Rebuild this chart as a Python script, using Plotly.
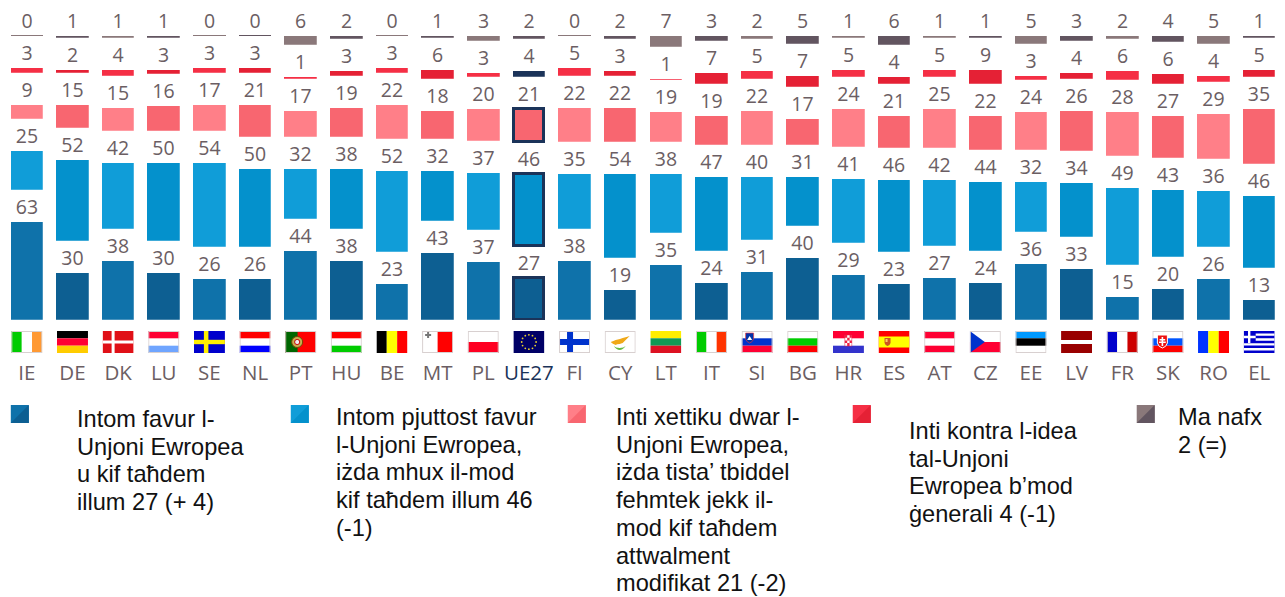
import base64
import plotly.graph_objects as go

countries = ["IE","DE","DK","LU","SE","NL","PT","HU","BE","MT","PL","UE27","FI","CY","LT","IT","SI","BG","HR","ES","AT","CZ","EE","LV","FR","SK","RO","EL"]
favour = [63,30,38,30,26,26,44,38,23,43,37,27,38,19,35,24,31,40,29,23,27,24,36,33,15,20,26,13]
rather_favour = [25,52,42,50,54,50,32,38,52,32,37,46,35,54,38,47,40,31,41,46,42,44,32,34,49,43,36,46]
sceptical = [9,15,15,16,17,21,17,19,22,18,20,21,22,22,19,19,22,17,24,21,25,22,24,26,28,27,29,35]
against = [3,2,4,3,3,3,1,3,3,6,3,4,5,3,1,7,5,7,5,4,5,9,3,4,6,6,4,5]
dont_know = [0,1,1,1,0,0,6,2,0,1,3,2,0,2,7,3,2,5,1,6,1,1,5,3,2,4,5,1]
series = [favour, rather_favour, sceptical, against, dont_know]

palette = [
    ("#0f72aa", "#0d5f92"),
    ("#109dd8", "#0491cc"),
    ("#ff7f88", "#f86670"),
    ("#f52f45", "#e52135"),
    ("#8a787a", "#625560"),
]
NAVY = "#1b3359"
TEXT = "#6b5e63"
legend_items = [
    (11, 76.5, 419, ["Intom favur l-", "Unjoni Ewropea", "u kif taħdem", "illum 27 (+ 4)"]),
    (291, 335.5, 417, ["Intom pjuttost favur", "l-Unjoni Ewropea,", "iżda mhux il-mod", "kif taħdem illum 46", "(-1)"]),
    (568, 615, 417, ["Inti xettiku dwar l-", "Unjoni Ewropea,", "iżda tista’ tbiddel", "fehmtek jekk il-", "mod kif taħdem", "attwalment", "modifikat 21 (-2)"]),
    (853, 908, 431, ["Inti kontra l-idea", "tal-Unjoni", "Ewropea b’mod", "ġenerali 4 (-1)"]),
    (1137, 1177, 417, ["Ma nafx", "2 (=)"]),
]

W, H = 1285, 597
ML, MR, MT, MB = 4.2, 2.7, 0, 277
PW, PH = W - ML - MR, H - MT - MB
UNIT = 1.56
GAP = 32 / UNIT
BAR = 32.6 / (PW / 28)
BAR_EU = 29.6 / (PW / 28)
EU = countries.index("UE27")
xs = list(range(len(countries)))

def xp(px): return (px - ML) / PW
def yp(px): return 1 - (px - MT) / PH

fig = go.Figure()
for k, vals in enumerate(series):
    colors = [palette[k][i % 2] for i in xs]
    line_c = []
    for i, v in enumerate(vals):
        line_c.append(colors[i] if v == 0 else "rgba(255,255,255,0.3)")
    line_w = [1.0 if v == 0 else 0.8 for v in vals]
    widths = [BAR] * len(xs)
    if k < 3:
        line_c[EU] = NAVY
        line_w[EU] = 3
        widths[EU] = BAR_EU
        colors[EU] = palette[k][1]
    if k == 3:
        colors[EU] = NAVY
    if k == 4:
        colors[EU] = palette[k][1]
    fig.add_bar(x=xs, y=vals, width=widths, marker=dict(color=colors, line=dict(color=line_c, width=line_w)),
                showlegend=False, hoverinfo="skip")
    fig.add_bar(x=xs, y=[GAP] * len(xs), width=BAR, marker=dict(color="rgba(0,0,0,0)", line=dict(width=0)),
                text=[str(v) for v in vals], textposition="inside", insidetextanchor="middle",
                textangle=0, constraintext="none",
                textfont=dict(family="Open Sans", size=19.5, color=TEXT), showlegend=False, hoverinfo="skip")

flags = {
 "IE": '<rect width="10.3" height="22" fill="#00cc00"/><rect x="20.7" width="10.3" height="22" fill="#ff9933"/>',
 "DE": '<rect width="31" height="7.3" fill="#000"/><rect y="7.3" width="31" height="7.4" fill="#ff0033"/><rect y="14.7" width="31" height="7.3" fill="#ffcc00"/>',
 "DK": '<rect width="31" height="22" fill="#e01017"/><rect x="9" width="3" height="22" fill="#fff"/><rect y="9.5" width="31" height="3" fill="#fff"/>',
 "LU": '<rect width="31" height="7.3" fill="#ff0033"/><rect y="14.7" width="31" height="7.3" fill="#6fa5ff"/>',
 "SE": '<rect width="31" height="22" fill="#0000cc"/><rect x="10" width="4.5" height="22" fill="#ffee00"/><rect y="8.8" width="31" height="4.4" fill="#ffee00"/>',
 "NL": '<rect width="31" height="7.3" fill="#ff0000"/><rect y="14.7" width="31" height="7.3" fill="#0000ff"/>',
 "PT": '<rect width="31" height="22" fill="#ff0000"/><rect width="12.4" height="22" fill="#006600"/><circle cx="12" cy="11" r="5.5" fill="#c8b050" stroke="#774400"/><circle cx="12" cy="11" r="2.6" fill="#eee" stroke="#cc0000"/>',
 "HU": '<rect width="31" height="7.3" fill="#ff0000"/><rect y="14.7" width="31" height="7.3" fill="#00cc00"/>',
 "BE": '<rect width="10.3" height="22" fill="#000"/><rect x="10.3" width="10.4" height="22" fill="#ffff00"/><rect x="20.7" width="10.3" height="22" fill="#ff0000"/>',
 "MT": '<rect x="15.5" width="15.5" height="22" fill="#ff0000"/><path d="M3 3h2V1h2v2h2v2H7v2H5V5H3z" fill="#777"/>',
 "PL": '<rect y="11" width="31" height="11" fill="#ff0022"/>',
 "UE27": '<rect width="31" height="22" fill="#000066"/>' + "".join(f'<circle cx="{15.5+7.2*c:.1f}" cy="{11+7.2*s:.1f}" r="0.9" fill="#e8d030"/>' for c, s in [(1,0),(.87,.5),(.5,.87),(0,1),(-.5,.87),(-.87,.5),(-1,0),(-.87,-.5),(-.5,-.87),(0,-1),(.5,-.87),(.87,-.5)]),
 "FI": '<rect x="8" width="6" height="22" fill="#0033cc"/><rect y="8" width="31" height="6" fill="#0033cc"/>',
 "CY": '<path d="M6 11q3-1 5-2q5-1 7-2q4-1 7-2q-3 3-5 5q-2 3-5 3q-3 0-4 1q-3-1-5-3z" fill="#f0a818"/><path d="M9 15q3 4 6 4q3 0 6-4q-2 2-6 2q-4 0-6-2z" fill="#66bb44"/>',
 "LT": '<rect width="31" height="7.3" fill="#ffee00"/><rect y="7.3" width="31" height="7.4" fill="#119955"/><rect y="14.7" width="31" height="7.3" fill="#dd1122"/>',
 "IT": '<rect width="10.3" height="22" fill="#00cc00"/><rect x="20.7" width="10.3" height="22" fill="#ff3300"/>',
 "SI": '<rect y="7.3" width="31" height="7.4" fill="#0033cc"/><rect y="14.7" width="31" height="7.3" fill="#ff0033"/><path d="M4 2h8v6q-1 3-4 4q-3-1-4-4z" fill="#0033aa" stroke="#ff3333" stroke-width=".6"/><path d="M5.5 9l2.5-4l2.5 4z" fill="#fff"/>',
 "BG": '<rect y="7.3" width="31" height="7.4" fill="#00cc00"/><rect y="14.7" width="31" height="7.3" fill="#ff0000"/>',
 "HR": '<rect width="31" height="7.3" fill="#ff0033"/><rect y="14.7" width="31" height="7.3" fill="#3333cc"/><rect x="12" y="4" width="7" height="11" fill="#fff" stroke="#dd2244" stroke-width=".5"/><path d="M12 4h2.3v2.7H12zM16.7 4H19v2.7h-2.3zM14.3 6.7h2.4v2.7h-2.4zM12 9.4h2.3v2.7H12zM16.7 9.4H19v2.7h-2.3zM14.3 12.1h2.4v2.9h-2.4z" fill="#ee2244"/>',
 "ES": '<rect width="31" height="22" fill="#ff0000"/><rect y="5.5" width="31" height="11" fill="#ffff00"/><path d="M6 7h6v5q-1 3-3 3t-3-3z" fill="#cc5522"/><rect x="7" y="8" width="2" height="3" fill="#ffcc66"/>',
 "AT": '<rect width="31" height="7.3" fill="#ff0033"/><rect y="14.7" width="31" height="7.3" fill="#ff0033"/>',
 "CZ": '<rect y="11" width="31" height="11" fill="#ff0033"/><path d="M0 0L15 11L0 22z" fill="#0033cc"/>',
 "EE": '<rect width="31" height="7.3" fill="#0099ff"/><rect y="7.3" width="31" height="7.4" fill="#000"/>',
 "LV": '<rect width="31" height="9" fill="#990000"/><rect y="13" width="31" height="9" fill="#990000"/>',
 "FR": '<rect width="10.3" height="22" fill="#0000cc"/><rect x="20.7" width="10.3" height="22" fill="#cc0000"/>',
 "SK": '<rect y="7.3" width="31" height="7.4" fill="#0055ff"/><rect y="14.7" width="31" height="7.3" fill="#ff0000"/><path d="M5 4h10v8q-1 4-5 5q-4-1-5-5z" fill="#ee1111" stroke="#fff"/><path d="M9.2 6h1.6v2h2v1.4h-2v1.2h2.6V12h-2.6v3H9.2v-3H6.6v-1.4h2.6V9.4h-2V8h2z" fill="#fff"/>',
 "RO": '<rect width="10.3" height="22" fill="#0033ff"/><rect x="10.3" width="10.4" height="22" fill="#ffff00"/><rect x="20.7" width="10.3" height="22" fill="#ff0000"/>',
 "EL": '<rect width="31" height="22" fill="#0000cc"/><path d="M12 3.6h19M12 8.5h19M0 13.4h31M0 18.3h31" stroke="#fff" stroke-width="2.4"/><path d="M5.5 0v12M0 6h12" stroke="#fff" stroke-width="2.4"/>',
}
bordered = {"IE","LU","MT","PL","FI","CY","SI","BG","CZ","EE","FR","SK","IT","PT","NL","HU","AT"}
images = []
for i, c in enumerate(countries):
    edge = '<rect x=".5" y=".5" width="30" height="21" fill="none" stroke="#d8d0d0"/>' if c in bordered else ""
    svg = f'<svg xmlns="http://www.w3.org/2000/svg" width="31" height="22" viewBox="0 0 31 22"><rect width="31" height="22" fill="#fff"/>{flags[c]}{edge}</svg>'
    src = "data:image/svg+xml;base64," + base64.b64encode(svg.encode("utf-8")).decode()
    images.append(dict(source=src, xref="x", yref="paper", x=i, y=yp(331), sizex=31 / (PW / 28), sizey=22 / PH,
                       xanchor="center", yanchor="top", sizing="stretch", layer="above"))

annotations, shapes = [], []
for k, (sq, tx, ty, lines) in enumerate(legend_items):
    light, dark = palette[k]
    x0, x1, y0, y1 = xp(sq), xp(sq + 18), yp(405), yp(423)
    shapes.append(dict(type="rect", xref="paper", yref="paper", x0=x0, x1=x1, y0=y0, y1=y1,
                       fillcolor=light, line=dict(width=0)))
    shapes.append(dict(type="path", xref="paper", yref="paper",
                       path=f"M {x1} {y0} L {x1} {y1} L {x0} {y1} Z", fillcolor=dark, line=dict(width=0)))
    for j, t in enumerate(lines):
        annotations.append(dict(text=t, xref="paper", yref="paper", x=xp(tx), y=yp(ty + j * 27.7),
                                xanchor="left", yanchor="middle", showarrow=False, align="left", borderpad=0,
                                font=dict(family="Liberation Sans", size=23.6, color="#111111")))

ticktext = [f'<span style="color:{NAVY}">{c}</span>' if c == "UE27" else c for c in countries]
fig.update_layout(
    barmode="stack", bargap=0, width=W, height=H, autosize=False,
    margin=dict(l=ML, r=MR, t=MT, b=MB, pad=0),
    paper_bgcolor="white", plot_bgcolor="white",
    xaxis=dict(range=[-0.5, 27.5], tickmode="array", tickvals=xs, ticktext=ticktext, showgrid=False, zeroline=False,
               showline=False, ticks="outside", ticklen=34, tickcolor="rgba(0,0,0,0)", tickwidth=1, automargin=False,
               tickangle=0, tickfont=dict(family="Open Sans", size=20.5, color=TEXT)),
    yaxis=dict(range=[0, PH / UNIT], visible=False, automargin=False),
    images=images, annotations=annotations, shapes=shapes,
)
fig.write_html("out.html", config={"displayModeBar": False},
               post_script="document.body.style.margin='0';document.documentElement.style.overflow='hidden';")
